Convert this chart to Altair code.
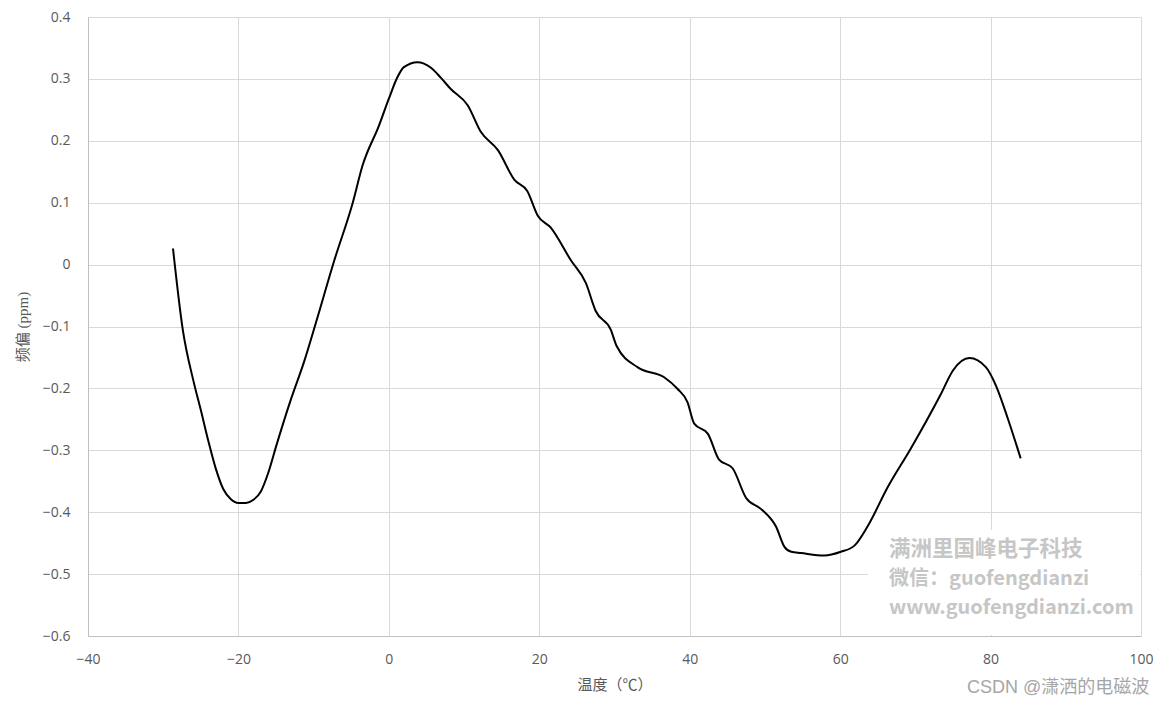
import altair as alt
import pandas as pd

# Temperature (°C) and frequency offset (ppm)
temp = [-28.7, -27.4, -26.0, -25.0, -24.0, -23.0, -22.0, -21.0, -20.0, -19.0,
        -18.0, -17.0, -16.0, -15.0, -13.0, -11.3, -9.7, -7.3, -4.8, -3.5,
        -1.3, 0.0, 1.15, 2.0, 3.8, 5.6, 6.9, 8.2, 10.5, 12.2,
        14.5, 16.7, 18.4, 19.8, 21.5, 24.2, 26.2, 27.5, 29.5, 30.3,
        33.1, 36.6, 38.4, 39.7, 40.6, 42.4, 43.9, 45.7, 47.5, 49.5,
        51.5, 52.6, 53.5, 54.8, 57.9, 60.1, 61.9, 63.6, 66.3, 69.4,
        73.4, 75.0, 77.2, 79.4, 80.7, 82.3, 84.0]
offset = [0.026, -0.105, -0.187, -0.235, -0.285, -0.330, -0.363, -0.379, -0.385, -0.385,
          -0.380, -0.366, -0.335, -0.294, -0.217, -0.158, -0.094, 0.005, 0.100, 0.160,
          0.225, 0.268, 0.303, 0.319, 0.327, 0.318, 0.302, 0.284, 0.257, 0.215,
          0.185, 0.137, 0.119, 0.079, 0.060, 0.007, -0.030, -0.075, -0.105, -0.132,
          -0.166, -0.182, -0.201, -0.222, -0.257, -0.273, -0.315, -0.329, -0.377, -0.395,
          -0.424, -0.456, -0.464, -0.466, -0.470, -0.464, -0.454, -0.424, -0.360, -0.297,
          -0.209, -0.171, -0.151, -0.166, -0.195, -0.249, -0.313]

x_ticks = [-40, -20, 0, 20, 40, 60, 80, 100]
y_ticks = [-0.6, -0.5, -0.4, -0.3, -0.2, -0.1, 0, 0.1, 0.2, 0.3, 0.4]

x_title = "温度（℃）"
y_title = "频偏 (ppm)"
watermark_lines = ["满洲里国峰电子科技", "微信：guofengdianzi", "www.guofengdianzi.com"]
watermark_sizes = [21.5, 20, 20]
credit = "CSDN @潇洒的电磁波"

df = pd.DataFrame({"temp": temp, "offset": offset})

FONT = "Noto Sans CJK SC"
LABEL_FONT = "Open Sans"
PLOT_H = 619

line = alt.Chart(df).mark_line(color="black", strokeWidth=2, interpolate="monotone").encode(
    x=alt.X("temp:Q", scale=alt.Scale(domain=[-40, 100], nice=False, zero=False),
            axis=alt.Axis(values=x_ticks, title=x_title, format="d")),
    y=alt.Y("offset:Q", scale=alt.Scale(domain=[-0.6, 0.4], nice=False, zero=False),
            axis=alt.Axis(values=y_ticks, title=y_title, format="~g")),
)

box = alt.Chart(pd.DataFrame({"a": [0]})).mark_rect(fill="white").encode(
    x=alt.value(780), x2=alt.value(1052), y=alt.value(PLOT_H - 106), y2=alt.value(PLOT_H - 1)
)

wm_layers = []
for i, txt in enumerate(watermark_lines):
    wm_layers.append(
        alt.Chart(pd.DataFrame({"t": [txt]})).mark_text(
            align="left", baseline="alphabetic", fontSize=watermark_sizes[i], fontWeight="bold",
            color="#c6c6c6", font=FONT
        ).encode(x=alt.value(801), y=alt.value(PLOT_H - 80 + 29 * i), text="t:N")
    )

credit_layer = alt.Chart(pd.DataFrame({"t": [credit]})).mark_text(
    align="left", baseline="alphabetic", fontSize=18, color="#a6a6a6",
    font="Liberation Sans, Noto Sans CJK SC"
).encode(x=alt.value(879), y=alt.value(PLOT_H + 57), text="t:N")

chart = alt.layer(line, box, *wm_layers, credit_layer).properties(
    width=1053, height=PLOT_H,
    autosize=alt.AutoSizeParams(type="none"),
    padding={"left": 80, "top": 9, "right": 20, "bottom": 60},
).configure_view(stroke=None).configure_axis(
    grid=True, gridColor="#d9d9d9", gridWidth=1,
    domainColor="#bfbfbf", ticks=False,
    labelColor="#595959", labelFontSize=14, labelFont=LABEL_FONT,
    titleColor="#595959", titleFontSize=15, titleFont=FONT, titleFontWeight="normal",
).configure_axisX(
    labelPadding=16, titlePadding=11, labelFlush=False,
).configure_axisY(
    labelPadding=18, titlePadding=12, domain=True,
    titleFont="Liberation Serif, Noto Sans CJK SC",
)

chart.save("out.html", embed_options={"renderer": "svg", "actions": False})
